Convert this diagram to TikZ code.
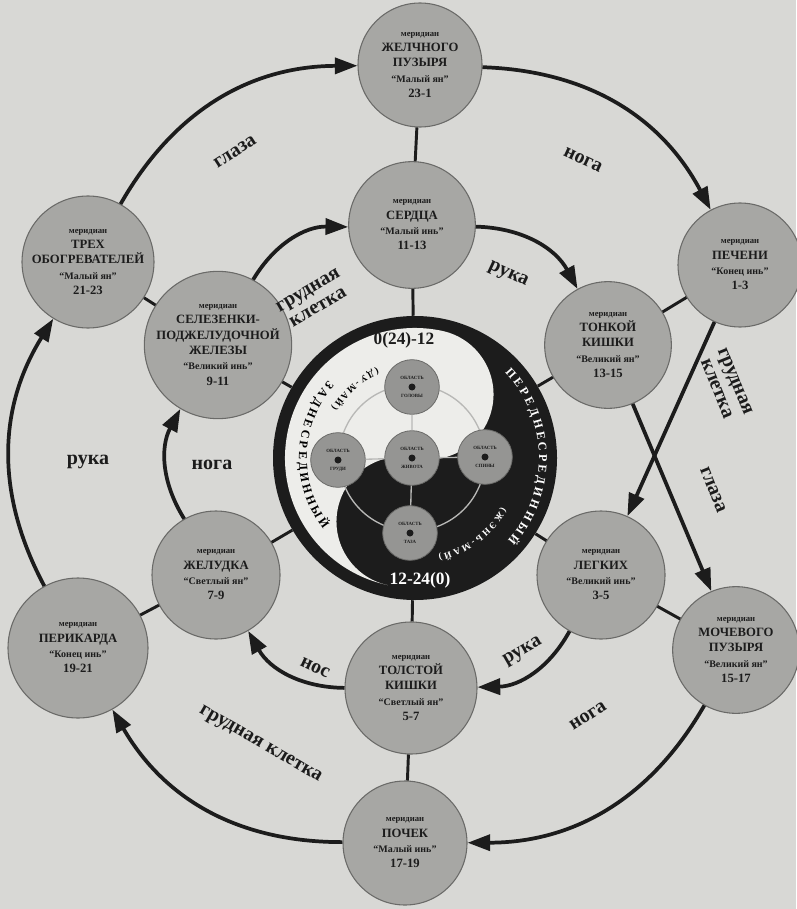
\documentclass[tikz,border=0pt]{standalone}
\usepackage{fontspec}
\setmainfont{Liberation Serif}
\usetikzlibrary{arrows.meta,decorations.text,calc}
\definecolor{paper}{HTML}{D8D8D5}
\definecolor{nodegray}{HTML}{A7A7A4}
\definecolor{nodeedge}{HTML}{6A6A68}
\definecolor{ink}{HTML}{1C1C1C}
\definecolor{smallgray}{HTML}{959593}
\definecolor{ringgray}{HTML}{B8B8B6}
\definecolor{yang}{HTML}{EDEDEA}
\newcommand\mrd{{\fontsize{6.5}{8}\selectfont меридиан}}
\newcommand\qtx[1]{{\fontsize{7.5}{9}\selectfont “#1”}}
\begin{document}
\begin{tikzpicture}[x=0.75pt,y=0.75pt,
  mer/.style={circle,fill=nodegray,draw=nodeedge,line width=0.8pt,inner sep=0pt,align=center,text=ink,
    font=\bfseries\fontsize{9.5}{11.5}\selectfont},
  flow/.style={line width=2.8pt,draw=ink,-{Triangle[length=17pt,width=12pt]}},
  spoke/.style={line width=2.2pt,draw=ink},
  lab/.style={font=\bfseries\fontsize{15}{15}\selectfont,text=ink,inner sep=1pt,align=center},
  small/.style={circle,fill=smallgray,draw=nodeedge,line width=0.6pt,inner sep=0pt,minimum size=41pt,align=center,text=ink,
    font=\bfseries\fontsize{3.6}{4.5}\selectfont},
  hour/.style={font=\bfseries\fontsize{13}{14}\selectfont,inner sep=1pt}
]
\fill[paper] (0,0) rectangle (796,-909);
\useasboundingbox (0,0) rectangle (796,-909);

% ---------- central yin-yang ----------
\coordinate (C) at (415,-458);
\node[circle,minimum size=213pt,inner sep=0pt] (YY) at (C) {};
\fill[ink] (C) circle (142);
\fill[yang] ($(C)+(78:130)$) arc[start angle=78,end angle=258,radius=130]
   arc[start angle=258,end angle=78,radius=65]
   arc[start angle=258,end angle=438,radius=65] -- cycle;
\path[decorate,decoration={text along path,text align=center,
   text={|\bfseries\fontsize{9}{9}\selectfont|З А Д Н Е С Р Е Д И Н Н Ы Й}}]
   ($(C)+(124:116)$) arc[start angle=124,end angle=232,radius=116];
\path[decorate,decoration={text along path,text align=center,
   text={|\bfseries\fontsize{7}{7}\selectfont|( Д У - М А Й )}}]
   ($(C)+(112:97)$) arc[start angle=112,end angle=150,radius=97];
\path[decorate,decoration={text along path,text align=center,text color=white,
   text={|\bfseries\fontsize{9}{9}\selectfont|П Е Р Е Д Н Е С Р Е Д И Н Н Ы Й}}]
   ($(C)+(60:124)$) arc[start angle=60,end angle=-58,radius=124];
\path[decorate,decoration={text along path,text align=center,text color=white,
   text={|\bfseries\fontsize{7}{7}\selectfont|( Ж Э Н Ь - М А Й )}}]
   ($(C)+(-28:100)$) arc[start angle=-28,end angle=-78,radius=100];
\node[hour,text=ink] (h1) at (404,-340) {0(24)-12};
\node[hour,text=white] (h2) at (420,-580) {12-24(0)};

\coordinate (R0) at (412,-458);
\draw[ringgray,line width=1pt] (R0) circle (73);
\node[small] (Oc) at (R0) {ОБЛАСТЬ\\[9pt]ЖИВОТА};
\node[small] (Ot) at (412,-387) {ОБЛАСТЬ\\[9pt]ГОЛОВЫ};
\node[small] (Ob) at (410,-533) {ОБЛАСТЬ\\[9pt]ТАЗА};
\node[small] (Ol) at (338,-460) {ОБЛАСТЬ\\[9pt]ГРУДИ};
\node[small] (Or) at (485,-457) {ОБЛАСТЬ\\[9pt]СПИНЫ};
\draw[ringgray,line width=1pt] (Ol) -- (Oc) -- (Or) (Ot) -- (Oc) -- (Ob);
\foreach \n in {Oc,Ot,Ob,Ol,Or} \fill[ink] (\n) circle (3.5);

% ---------- meridian nodes ----------
\node[mer,minimum size=93pt] (GB) at (420,-65) {\mrd\\ЖЕЛЧНОГО\\ПУЗЫРЯ\\\qtx{Малый ян}\\23-1};
\node[mer,minimum size=95pt] (HT) at (412,-225) {\mrd\\СЕРДЦА\\\qtx{Малый инь}\\11-13};
\node[mer,minimum size=93pt] (LV) at (740,-265) {\mrd\\ПЕЧЕНИ\\\qtx{Конец инь}\\1-3};
\node[mer,minimum size=99pt] (TH) at (88,-262) {\mrd\\ТРЕХ\\ОБОГРЕВАТЕЛЕЙ\\\qtx{Малый ян}\\21-23};
\node[mer,minimum size=105pt] (SP) at (218,-345) {\mrd\\СЕЛЕЗЕНКИ-\\ПОДЖЕЛУДОЧНОЙ\\ЖЕЛЕЗЫ\\\qtx{Великий инь}\\9-11};
\node[mer,minimum size=95pt] (SI) at (608,-345) {\mrd\\ТОНКОЙ\\КИШКИ\\\qtx{Великий ян}\\13-15};
\node[mer,minimum size=96pt] (LU) at (601,-575) {\mrd\\ЛЕГКИХ\\\qtx{Великий инь}\\3-5};
\node[mer,minimum size=95pt] (BL) at (736,-650) {\mrd\\МОЧЕВОГО\\ПУЗЫРЯ\\\qtx{Великий ян}\\15-17};
\node[mer,minimum size=105pt] (PC) at (78,-648) {\mrd\\ПЕРИКАРДА\\\qtx{Конец инь}\\19-21};
\node[mer,minimum size=96pt] (ST) at (216,-575) {\mrd\\ЖЕЛУДКА\\\qtx{Светлый ян}\\7-9};
\node[mer,minimum size=99pt] (LI) at (411,-688) {\mrd\\ТОЛСТОЙ\\КИШКИ\\\qtx{Светлый ян}\\5-7};
\node[mer,minimum size=93pt] (KI) at (405,-843) {\mrd\\ПОЧЕК\\\qtx{Малый инь}\\17-19};

% ---------- spokes ----------
\draw[spoke] (GB) -- (HT);
\draw[spoke] (HT) -- (YY);
\draw[spoke] (YY) -- (LI);
\draw[spoke] (LI) -- (KI);
\draw[spoke] (TH) -- (SP);
\draw[spoke] (SP) -- (YY);
\draw[spoke] (LV) -- (SI);
\draw[spoke] (SI) -- (YY);
\draw[spoke] (ST) -- (PC);
\draw[spoke] (ST) -- (YY);
\draw[spoke] (LU) -- (BL);
\draw[spoke] (LU) -- (YY);

% ---------- flows ----------
\draw[flow] (TH) to[bend left=30] (GB);
\draw[flow] (GB) to[bend left=30] (LV);
\draw[flow] (LV) -- (LU);
\draw[flow] (BL) to[bend left=30] (KI);
\draw[flow] (KI) to[bend left=30] (PC);
\draw[flow] (PC) to[bend left=30] (TH);
\draw[flow] (SP) to[bend left=30] (HT);
\draw[flow] (HT) to[bend left=30] (SI);
\draw[flow] (SI) -- (BL);
\draw[flow] (LU) to[bend left=30] (LI);
\draw[flow] (LI) to[bend left=30] (ST);
\draw[flow] (ST) to[bend left=30] (SP);

% ---------- labels ----------
\node[lab,rotate=33] (l1) at (235,-152) {глаза};
\node[lab,rotate=-25] (l2) at (583,-160) {нога};
\node[lab,rotate=33] (l3) at (588,-716) {нога};
\node[lab,rotate=-30] (l4) at (260,-745) {грудная клетка};
\node[lab] (l5) at (88,-462) {рука};
\node[lab,rotate=30] (l6) at (313,-299) {грудная\\клетка};
\node[lab,rotate=-25] (l7) at (508,-275) {рука};
\node[lab,rotate=30] (l8) at (523,-652) {рука};
\node[lab,rotate=-25] (l9) at (315,-668) {нос};
\node[lab] (l10) at (212,-465) {нога};
\node[lab,rotate=-68] (l11) at (726,-385) {грудная\\клетка};
\node[lab,rotate=-68] (l12) at (713,-490) {глаза};
\end{tikzpicture}
\end{document}
